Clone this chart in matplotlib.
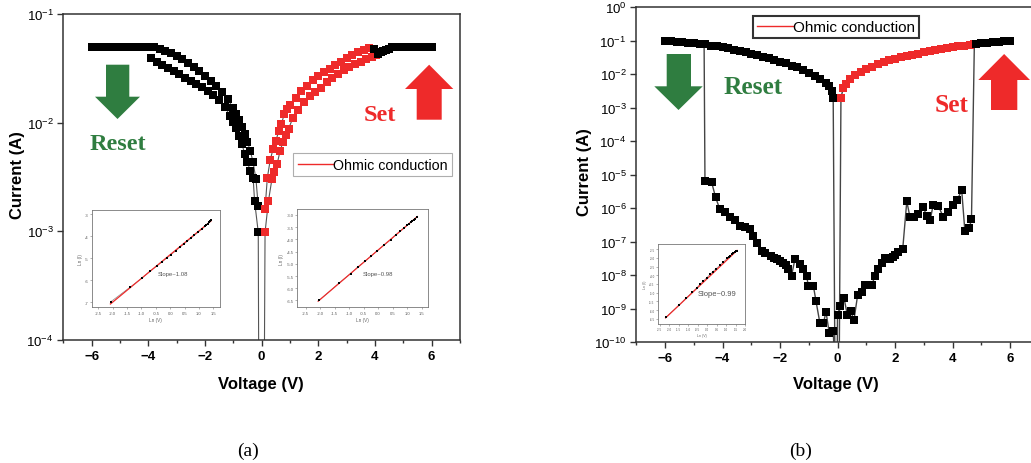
import matplotlib
matplotlib.use('Agg')
import matplotlib.pyplot as plt
import numpy as np
from matplotlib.lines import Line2D
from matplotlib.patches import Polygon
from matplotlib.ticker import MultipleLocator, NullLocator, FixedLocator, LogLocator

plt.rcParams['font.family'] = ['Liberation Sans', 'DejaVu Sans']
plt.rcParams['mathtext.fontset'] = 'custom'
plt.rcParams['mathtext.rm'] = 'Liberation Sans'
plt.rcParams['mathtext.bf'] = 'Liberation Sans:bold'
plt.rcParams['mathtext.default'] = 'bf'

W, H = 1031, 464
RED = '#EE2A2A'
GREEN = '#2F7D40'
MS = 5.8

# ---------------- Panel (a) data ----------------
a_reset_outer_v = [-6.0, -5.8, -5.6, -5.4, -5.2, -5.0, -4.8, -4.6, -4.4, -4.2, -4.0, -3.8, -3.6, -3.4,
                   -3.2, -3.0, -2.8, -2.6, -2.4, -2.2, -2.0, -1.8, -1.6, -1.4, -1.2, -1.0, -0.9, -0.8,
                   -0.7, -0.6, -0.5, -0.4, -0.3, -0.2, -0.12]
a_reset_outer_i = [0.050, 0.050, 0.050, 0.050, 0.050, 0.050, 0.050, 0.050, 0.050, 0.050, 0.050, 0.0495,
                   0.0480, 0.0460, 0.0438, 0.0412, 0.0385, 0.0355, 0.0325, 0.0296, 0.0268, 0.0241, 0.0216,
                   0.0192, 0.0164, 0.0136, 0.0121, 0.0106, 0.0092, 0.0079, 0.0066, 0.0055, 0.0043, 0.0030,
                   0.0017]
a_reset_inner_v = [-3.9, -3.7, -3.5, -3.3, -3.1, -2.9, -2.7, -2.5, -2.3, -2.1, -1.9, -1.7, -1.5, -1.3,
                   -1.1, -1.0, -0.9, -0.8, -0.7, -0.6, -0.5, -0.4, -0.3, -0.25, -0.12]
a_reset_inner_i = [0.0390, 0.0362, 0.0338, 0.0318, 0.0298, 0.0278, 0.0259, 0.0241, 0.0226, 0.0213, 0.0197,
                   0.0180, 0.0160, 0.0139, 0.0115, 0.0102, 0.0089, 0.0076, 0.0064, 0.0052, 0.0043, 0.0036,
                   0.0031, 0.0019, 0.00098]
a_set_upper_v = [0.12, 0.2, 0.3, 0.4, 0.5, 0.6, 0.7, 0.8, 0.9, 1.0, 1.2, 1.4, 1.6, 1.8, 2.0, 2.2, 2.4, 2.6,
                 2.8, 3.0, 3.2, 3.4, 3.6, 3.8]
a_set_upper_i = [0.0016, 0.0031, 0.0045, 0.0057, 0.0068, 0.0083, 0.0098, 0.0120, 0.0133, 0.0145, 0.0170,
                 0.0195, 0.0219, 0.0245, 0.0268, 0.0290, 0.0312, 0.0336, 0.0362, 0.0395, 0.0420, 0.0443,
                 0.0465, 0.0482]
a_set_lower_v = [0.12, 0.24, 0.36, 0.45, 0.55, 0.65, 0.75, 0.85, 0.95, 1.1, 1.3, 1.5, 1.7, 1.9, 2.1, 2.3,
                 2.5, 2.7, 2.9, 3.1, 3.3, 3.5, 3.7, 3.9, 4.05]
a_set_lower_i = [0.00098, 0.0019, 0.0030, 0.0035, 0.0042, 0.0055, 0.0066, 0.0077, 0.0088, 0.0110, 0.0132,
                 0.0155, 0.0175, 0.0193, 0.0210, 0.0235, 0.0258, 0.0280, 0.0303, 0.0325, 0.0345, 0.0365,
                 0.0385, 0.0402, 0.0417]
a_high_pos_v = [4.1, 4.2, 4.3, 4.4, 4.5, 4.6, 4.7, 4.8, 5.0, 5.2, 5.4, 5.6, 5.8, 6.0]
a_high_pos_i = [0.0430, 0.0443, 0.0456, 0.0468, 0.0480, 0.0492, 0.0500, 0.050, 0.050, 0.050, 0.050, 0.050,
                0.050, 0.050]
a_join_v = [3.95]
a_join_i = [0.0480]
a_zero_v = [-0.08, 0.06]      # off-scale end points of the sweeps near 0 V
a_zero_i = [1e-6, 1e-6]

# insets of (a): ln(V) vs ln(I)
a_in1_x = [-2.06, -1.40, -0.97, -0.70, -0.47, -0.27, -0.12, 0.03, 0.19, 0.34, 0.48, 0.60, 0.72, 0.84,
           0.98, 1.10, 1.21, 1.26, 1.30, 1.34, 1.38, 1.42]
a_in1_y = [-6.97, -6.32, -5.89, -5.58, -5.36, -5.15, -4.99, -4.83, -4.66, -4.50, -4.35, -4.22, -4.09,
           -3.96, -3.81, -3.68, -3.55, -3.47, -3.42, -3.37, -3.32, -3.26]
a_in1_fit_x = [-2.08, 1.42]
a_in1_fit_y = [-7.08, -3.30]
a_in2_x = [-2.03, -1.34, -0.95, -0.69, -0.46, -0.26, -0.03, 0.20, 0.43, 0.61, 0.75, 0.89, 1.00, 1.05,
           1.12, 1.17, 1.23, 1.28, 1.33]
a_in2_y = [-6.49, -5.78, -5.40, -5.12, -4.90, -4.70, -4.47, -4.24, -4.02, -3.82, -3.68, -3.55, -3.43,
           -3.38, -3.31, -3.26, -3.20, -3.15, -3.10]
a_in2_fit_x = [-2.07, 1.35]
a_in2_fit_y = [-6.53, -3.07]

# ---------------- Panel (b) data ----------------
b_lrs_neg_v = [-6.0, -5.8, -5.6, -5.4, -5.2, -5.0, -4.8, -4.6, -4.4, -4.2, -4.0, -3.8, -3.6, -3.4, -3.2,
               -3.0, -2.8, -2.6, -2.4, -2.2, -2.0, -1.8, -1.6, -1.4, -1.2, -1.0, -0.8, -0.6, -0.4, -0.3,
               -0.2, -0.15]
b_lrs_neg_i = [0.100, 0.098, 0.093, 0.090, 0.087, 0.084, 0.081, 0.078, 0.072, 0.068, 0.063, 0.059, 0.054,
               0.049, 0.045, 0.041, 0.037, 0.033, 0.030, 0.027, 0.024, 0.021, 0.018, 0.016, 0.0135,
               0.0112, 0.0089, 0.0071, 0.0054, 0.0044, 0.0032, 0.0020]
b_ohmic_v = [0.12, 0.2, 0.3, 0.43, 0.6, 0.8, 1.0, 1.2, 1.4, 1.6, 1.8, 2.0, 2.2, 2.4, 2.6, 2.8, 3.0, 3.2,
             3.4, 3.6, 3.8, 4.0, 4.2, 4.4, 4.6, 4.75]
b_ohmic_i = [0.0020, 0.0038, 0.0052, 0.0072, 0.0093, 0.0117, 0.0145, 0.017, 0.020, 0.023, 0.026, 0.0295,
             0.032, 0.035, 0.038, 0.041, 0.045, 0.048, 0.052, 0.056, 0.060, 0.064, 0.068, 0.072, 0.076,
             0.080]
b_lrs_pos_v = [4.8, 5.0, 5.2, 5.4, 5.6, 5.8, 6.0]
b_lrs_pos_i = [0.081, 0.084, 0.087, 0.090, 0.093, 0.097, 0.100]
b_hrs_neg_v = [-4.61, -4.38, -4.24, -4.09, -3.91, -3.74, -3.57, -3.39, -3.22, -3.04, -2.93, -2.81, -2.64,
               -2.52, -2.33, -2.22, -2.12, -2.0, -1.89, -1.80, -1.71, -1.60, -1.48, -1.30, -1.19, -1.07,
               -1.02, -0.84, -0.75, -0.61, -0.49, -0.40, -0.29, -0.15]
b_hrs_neg_i = [6.6e-6, 6.0e-6, 2.1e-6, 9.1e-7, 7.6e-7, 5.4e-7, 4.3e-7, 3.0e-7, 2.7e-7, 2.4e-7, 1.45e-7,
               9.3e-8, 5.4e-8, 4.7e-8, 3.7e-8, 3.3e-8, 3.0e-8, 2.6e-8, 2.3e-8, 2.0e-8, 1.5e-8, 9.5e-9,
               3.0e-8, 2.1e-8, 1.5e-8, 9.5e-9, 4.8e-9, 4.8e-9, 1.7e-9, 3.6e-10, 3.6e-10, 8.1e-10,
               1.9e-10, 2.2e-10]
b_hrs_pos_v = [0.0, 0.09, 0.23, 0.34, 0.46, 0.57, 0.70, 0.84, 0.96, 1.08, 1.19, 1.30, 1.42, 1.54, 1.65,
               1.75, 1.83, 1.92, 2.0, 2.11, 2.27, 2.41, 2.52, 2.66, 2.81, 2.98, 3.10, 3.22, 3.33, 3.51,
               3.68, 3.86, 4.03, 4.17, 4.32, 4.43, 4.58, 4.66]
b_hrs_pos_i = [6.3e-10, 1.15e-9, 2.0e-9, 6.5e-10, 8.7e-10, 4.4e-10, 2.5e-9, 3.2e-9, 4.9e-9, 4.9e-9,
               4.9e-9, 9.3e-9, 1.5e-8, 2.3e-8, 3.2e-8, 3.0e-8, 3.1e-8, 3.4e-8, 3.9e-8, 4.9e-8, 6.2e-8,
               1.6e-6, 5.4e-7, 5.4e-7, 6.8e-7, 1.07e-6, 6.0e-7, 4.3e-7, 1.26e-6, 1.15e-6, 5.4e-7,
               7.6e-7, 1.2e-6, 1.8e-6, 3.4e-6, 2.1e-7, 2.5e-7, 4.6e-7]
b_reset_jump = (-4.64, 0.078)   # point on the LRS curve where the reset drop starts
b_set_jump = (4.76, 0.080)      # point on the LRS curve reached by the set jump
b_zero_v = [-0.08, 0.05, -0.03, -0.02]  # off-scale end points near 0 V
b_zero_i = [1e-12, 1e-12, 1e-12, 1e-12]

b_in_x = [-2.18, -1.49, -1.12, -0.78, -0.55, -0.38, -0.20, -0.02, 0.15, 0.29, 0.47, 0.68, 0.86, 1.07,
          1.15, 1.22, 1.30, 1.38, 1.45, 1.50, 1.56]
b_in_y = [-6.41, -5.72, -5.31, -4.97, -4.72, -4.52, -4.33, -4.13, -3.95, -3.80, -3.62, -3.42, -3.23,
          -3.02, -2.94, -2.87, -2.79, -2.72, -2.66, -2.62, -2.58]
b_in_fit_x = [-2.20, 1.58]
b_in_fit_y = [-6.45, -2.57]

# ---------------- helpers ----------------
fig = plt.figure(figsize=(W / 100, H / 100), dpi=100)


def px(x, y):
    return (x / W, 1 - y / H)


def axes_px(x0, y0, x1, y1):
    return fig.add_axes([x0 / W, 1 - y1 / H, (x1 - x0) / W, (y1 - y0) / H])


def block_arrow(sl, sr, hl, hr, y_end, y_neck, y_tip, color):
    xc = (hl + hr) / 2
    pts = [(sl, y_end), (sr, y_end), (sr, y_neck), (hr, y_neck), (xc, y_tip), (hl, y_neck), (sl, y_neck)]
    fig.add_artist(Polygon([px(*p) for p in pts], closed=True, transform=fig.transFigure,
                           facecolor=color, edgecolor='none', zorder=5))


def branch(ax, v, i, color, ms, lc, lw, lead=None, tail=None):
    lv, li = list(v), list(i)
    if lead is not None:
        lv = [lead[0]] + lv
        li = [lead[1]] + li
    if tail is not None:
        lv = lv + [tail[0]]
        li = li + [tail[1]]
    ax.plot(lv, li, color=lc, lw=lw, zorder=2)
    ax.plot(v, i, ls='none', marker='s', ms=ms, color=color, mew=0, zorder=3)


def style_main(ax, ylo, yhi):
    ax.set_yscale('log')
    ax.set_xlim(-7, 7)
    ax.set_ylim(ylo, yhi)
    ax.xaxis.set_major_locator(FixedLocator([-6, -4, -2, 0, 2, 4, 6]))
    ax.xaxis.set_minor_locator(FixedLocator([-7, -5, -3, -1, 1, 3, 5, 7]))
    ax.yaxis.set_major_locator(LogLocator(base=10, numticks=20))
    ax.yaxis.set_minor_locator(NullLocator())
    ax.tick_params(which='major', direction='out', length=4, width=1, labelsize=9.5, pad=3, color='#333')
    ax.tick_params(which='minor', direction='out', length=2.5, width=1, color='#333')
    ax.tick_params(axis='y', which='major', pad=3)
    for lab in ax.get_xticklabels():
        lab.set_fontweight('bold')
    for sp in ax.spines.values():
        sp.set_color('#333')
        sp.set_linewidth(1.1)


def inset(rect, xlim, ylim, xticks, yticks, xs, ys, fx, fy, text, txy, fs_tick, fs_text, yfmt):
    ax = axes_px(*rect)
    ax.set_xlim(*xlim)
    ax.set_ylim(*ylim)
    ax.plot(xs, ys, color='#888', lw=0.5, zorder=2)
    ax.plot(fx, fy, color=RED, lw=0.9, zorder=3)
    ax.plot(xs, ys, ls='none', marker='s', ms=1.6, color='black', mew=0, zorder=4)
    ax.set_xticks(xticks)
    ax.set_yticks(yticks)
    ax.set_xticklabels([f'{t:.1f}' for t in xticks])
    ax.set_yticklabels([yfmt.format(t) for t in yticks])
    ax.tick_params(direction='out', length=1.2, width=0.4, labelsize=fs_tick, pad=1.2,
                   colors='#777', labelcolor='#555')
    for sp in ax.spines.values():
        sp.set_color('#777')
        sp.set_linewidth(0.6)
    ax.set_xlabel('Ln (V)', fontsize=fs_tick + 0.4, color='#666', labelpad=1.5)
    ax.set_ylabel('Ln (I)', fontsize=fs_tick + 0.4, color='#666', labelpad=1.5)
    ax.text(txy[0], txy[1], text, fontsize=fs_text, color='#555', ha='center', va='center')
    return ax


# ---------------- Panel (a) ----------------
axa = axes_px(63.3, 15, 460, 341)
style_main(axa, 1e-4, 1e-1)
LC = '#555'
branch(axa, a_reset_outer_v, a_reset_outer_i, 'black', MS, LC, 0.8)
branch(axa, a_reset_inner_v, a_reset_inner_i, 'black', MS, LC, 0.8, tail=(a_zero_v[0], a_zero_i[0]))
branch(axa, a_set_lower_v, a_set_lower_i, RED, MS, LC, 0.8, lead=(a_zero_v[1], a_zero_i[1]))
branch(axa, a_set_upper_v, a_set_upper_i, RED, MS, LC, 0.8)
branch(axa, a_high_pos_v, a_high_pos_i, 'black', MS, LC, 0.8)
branch(axa, a_join_v, a_join_i, 'black', MS, LC, 0.8)

lega = axa.legend([Line2D([], [], color=RED, lw=1)], ['Ohmic conduction'], loc='upper left',
                  bbox_to_anchor=px(293.3, 154.3), bbox_transform=fig.transFigure, frameon=True,
                  fancybox=False, borderaxespad=0, borderpad=0.3, handlelength=2.5, handletextpad=0.0,
                  fontsize=10.3)
lega.get_frame().set_edgecolor('#9a9a9a')
lega.get_frame().set_linewidth(0.8)

inset((91.7, 210.7, 220, 308.3), (-2.73, 1.73), (-7.23, -2.79), list(np.arange(-2.5, 1.6, 0.5)),
      [-7, -6, -5, -4, -3], a_in1_x, a_in1_y, a_in1_fit_x, a_in1_fit_y, 'Slope~1.08', (0.11, -5.71),
      3.0, 4.3, '{:.0f}')
inset((296.7, 210, 428.3, 308.3), (-2.81, 1.73), (-6.78, -2.76), list(np.arange(-2.5, 1.6, 0.5)),
      list(np.arange(-6.5, -2.9, 0.5)), a_in2_x, a_in2_y, a_in2_fit_x, a_in2_fit_y, 'Slope~0.98',
      (0.0, -5.38), 3.0, 4.3, '{:.1f}')

# ---------------- Panel (b) ----------------
axb = axes_px(636.25, 8.3, 1038.75, 343)
style_main(axb, 1e-10, 1e0)
axb.spines['right'].set_visible(False)
LB = '#444'
branch(axb, b_lrs_neg_v, b_lrs_neg_i, 'black', MS, LB, 1.0, tail=(b_zero_v[0], b_zero_i[0]))
branch(axb, b_ohmic_v, b_ohmic_i, RED, MS, LB, 1.0, lead=(b_zero_v[1], b_zero_i[1]))
branch(axb, b_lrs_pos_v, b_lrs_pos_i, 'black', MS, LB, 1.0)
branch(axb, b_hrs_neg_v, b_hrs_neg_i, 'black', MS, LB, 1.0, lead=b_reset_jump,
       tail=(b_zero_v[2], b_zero_i[2]))
branch(axb, b_hrs_pos_v, b_hrs_pos_i, 'black', MS, LB, 1.0, lead=(b_zero_v[3], b_zero_i[3]),
       tail=b_set_jump)

legb = axb.legend([Line2D([], [], color=RED, lw=1)], ['Ohmic conduction'], loc='upper left',
                  bbox_to_anchor=px(752.7, 17.3), bbox_transform=fig.transFigure, frameon=True,
                  fancybox=False, borderaxespad=0, borderpad=0.25, handlelength=2.4, handletextpad=0.0,
                  fontsize=11)
legb.get_frame().set_edgecolor('black')
legb.get_frame().set_linewidth(1.5)

inset((658, 245, 745, 325), (-2.6, 2.0), (-6.8, -2.2), list(np.arange(-2.5, 2.1, 0.5)),
      list(np.arange(-6.5, -2.2, 0.5)), b_in_x, b_in_y, b_in_fit_x, b_in_fit_y, 'Slope~0.99',
      (0.51, -5.03), 2.2, 5.5, '{:.1f}')

# ---------------- axis labels ----------------
for x, y in [(17.5, 175), (584, 172)]:
    fig.text(*px(x, y), 'Current (A)', rotation=90, ha='center', va='center', fontsize=12,
             fontweight='bold')
for x, y in [(261, 385), (836, 385)]:
    fig.text(*px(x, y), 'Voltage (V)', ha='center', va='center', fontsize=12, fontweight='bold')

# ---------------- arrows and annotations ----------------
block_arrow(106, 129.3, 95, 140, 65.7, 97.7, 120, GREEN)
block_arrow(416.7, 441.7, 405, 453.3, 120.7, 90, 65.7, RED)
block_arrow(666.7, 691, 654.3, 702.7, 55, 87.3, 111, GREEN)
block_arrow(991, 1017.3, 978.3, 1030, 111, 81, 55, RED)

serif = ['Liberation Serif', 'DejaVu Serif']
fig.text(*px(90, 150), 'Reset', color=GREEN, fontsize=17.5, fontweight='bold', family=serif,
         ha='left', va='baseline')
fig.text(*px(363.3, 120.7), 'Set', color=RED, fontsize=17.5, fontweight='bold', family=serif,
         ha='left', va='baseline')
fig.text(*px(723.3, 94.3), 'Reset', color=GREEN, fontsize=18.3, fontweight='bold', family=serif,
         ha='left', va='baseline')
fig.text(*px(935, 111.7), 'Set', color=RED, fontsize=18.3, fontweight='bold', family=serif,
         ha='left', va='baseline')

fig.text(*px(248.5, 451), '(a)', fontsize=14, family=serif, ha='center', va='center')
fig.text(*px(801, 451), '(b)', fontsize=14, family=serif, ha='center', va='center')

fig.savefig('out.png', dpi=100)
